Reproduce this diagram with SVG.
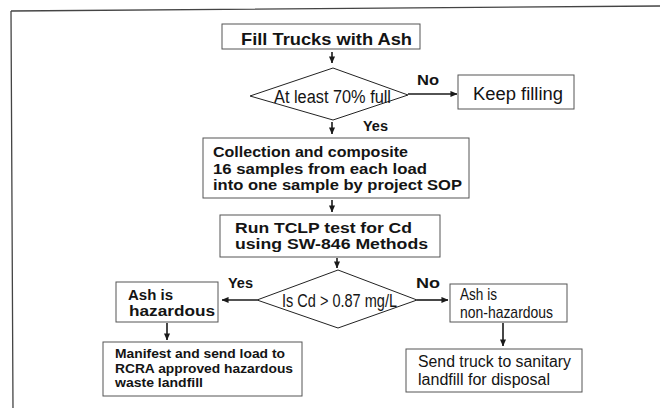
<svg xmlns="http://www.w3.org/2000/svg" width="660" height="408" viewBox="0 0 660 408">
  <defs>
    <marker id="arrow" viewBox="0 0 8 8" refX="7.5" refY="4" markerWidth="7" markerHeight="7" markerUnits="userSpaceOnUse" orient="auto">
      <path d="M0,0.5 L8,4 L0,7.5 Z" fill="#1a1a1a"/>
    </marker>
  </defs>
  <style>
    .box { fill: #ffffff; stroke: #555555; stroke-width: 1; }
    .dia { fill: #ffffff; stroke: #222222; stroke-width: 1; }
    .conn { stroke: #1a1a1a; stroke-width: 1.6; fill: none; marker-end: url(#arrow); }
    .frame { stroke: #444444; stroke-width: 1.3; fill: none; }
    text { fill: #141414; font-family: "Liberation Sans", Arial, Helvetica, sans-serif; }
    .b { font-weight: bold; }
    .narrow { font-family: "Liberation Sans Narrow", "Liberation Sans", Arial, sans-serif; }
    .lbl { font-weight: bold; font-size: 14px; }
  </style>

  <rect width="660" height="408" fill="#ffffff"/>

  <!-- page frame: top and left rules -->
  <path class="frame" d="M11,11 L660,6 M11,11 L13,408"/>

  <g id="fill-trucks">
    <rect class="box" x="222" y="24" width="198" height="25"/>
    <text class="b" x="241" y="45" font-size="17" textLength="171" lengthAdjust="spacingAndGlyphs">Fill Trucks with Ash</text>
  </g>

  <g id="check-full">
    <polygon class="dia" points="333,68 408,95 333,120 250,96"/>
    <text class="narrow" x="274" y="102.5" font-size="18" textLength="117" lengthAdjust="spacingAndGlyphs">At least 70% full</text>
  </g>

  <g id="keep-filling">
    <rect class="box" x="458" y="75" width="116" height="34"/>
    <text x="473" y="100" font-size="17.5" textLength="90" lengthAdjust="spacingAndGlyphs">Keep filling</text>
  </g>

  <g id="composite">
    <rect class="box" x="203" y="138" width="266" height="60"/>
    <text class="b" x="213" y="157" font-size="14.5" textLength="195" lengthAdjust="spacingAndGlyphs">Collection and composite</text>
    <text class="b" x="213" y="173.5" font-size="14.5" textLength="214" lengthAdjust="spacingAndGlyphs">16 samples from each load</text>
    <text class="b" x="213" y="190" font-size="14.5" textLength="249" lengthAdjust="spacingAndGlyphs">into one sample by project SOP</text>
  </g>

  <g id="tclp">
    <rect class="box" x="220" y="215" width="220" height="42"/>
    <text class="b" x="235" y="233" font-size="14.5" textLength="177" lengthAdjust="spacingAndGlyphs">Run TCLP test for Cd</text>
    <text class="b" x="235" y="249" font-size="14.5" textLength="193" lengthAdjust="spacingAndGlyphs">using SW-846 Methods</text>
  </g>

  <g id="check-cd">
    <polygon class="dia" points="338,270 417,300 338,328 257,300"/>
    <text class="narrow" x="282" y="307" font-size="18.5" textLength="115" lengthAdjust="spacingAndGlyphs">Is Cd &gt; 0.87 mg/L</text>
  </g>

  <g id="hazardous">
    <rect class="box" x="116" y="282" width="102" height="40"/>
    <text class="b" x="128" y="300" font-size="14.5" textLength="45" lengthAdjust="spacingAndGlyphs">Ash is</text>
    <text class="b" x="129" y="316" font-size="14.5" textLength="86" lengthAdjust="spacingAndGlyphs">hazardous</text>
  </g>

  <g id="manifest">
    <rect class="box" x="103" y="342" width="199" height="54"/>
    <text class="b" x="115" y="358" font-size="12.5" textLength="170" lengthAdjust="spacingAndGlyphs">Manifest and send load to</text>
    <text class="b" x="115" y="373" font-size="12.5" textLength="178" lengthAdjust="spacingAndGlyphs">RCRA approved hazardous</text>
    <text class="b" x="115" y="387" font-size="12.5" textLength="88" lengthAdjust="spacingAndGlyphs">waste landfill</text>
  </g>

  <g id="non-hazardous">
    <rect class="box" x="450" y="284" width="117" height="38"/>
    <text class="narrow" x="460" y="300" font-size="17" textLength="37" lengthAdjust="spacingAndGlyphs">Ash is</text>
    <text class="narrow" x="460" y="318" font-size="17" textLength="93" lengthAdjust="spacingAndGlyphs">non-hazardous</text>
  </g>

  <g id="sanitary">
    <rect class="box" x="406" y="349" width="176" height="43"/>
    <text x="418" y="367" font-size="16" textLength="153" lengthAdjust="spacingAndGlyphs">Send truck to sanitary</text>
    <text x="418" y="385" font-size="16" textLength="132" lengthAdjust="spacingAndGlyphs">landfill for disposal</text>
  </g>

  <g id="connectors">
    <line class="conn" x1="332" y1="52" x2="332" y2="63"/>
    <line class="conn" x1="408" y1="94" x2="457" y2="94"/>
    <line class="conn" x1="332" y1="122" x2="332" y2="134"/>
    <line class="conn" x1="332" y1="200" x2="332" y2="212"/>
    <line class="conn" x1="337" y1="258" x2="337" y2="268"/>
    <line class="conn" x1="257" y1="300" x2="222" y2="300"/>
    <line class="conn" x1="417" y1="300" x2="448" y2="300"/>
    <line class="conn" x1="167" y1="323" x2="167" y2="340"/>
    <line class="conn" x1="503" y1="323" x2="503" y2="346"/>
    <text class="lbl" x="417" y="85" textLength="22" lengthAdjust="spacingAndGlyphs">No</text>
    <text class="lbl" x="363" y="131" font-size="13" textLength="25" lengthAdjust="spacingAndGlyphs">Yes</text>
    <text class="lbl" x="228" y="288" textLength="25" lengthAdjust="spacingAndGlyphs">Yes</text>
    <text class="lbl" x="416" y="288" textLength="24" lengthAdjust="spacingAndGlyphs">No</text>
  </g>
</svg>
